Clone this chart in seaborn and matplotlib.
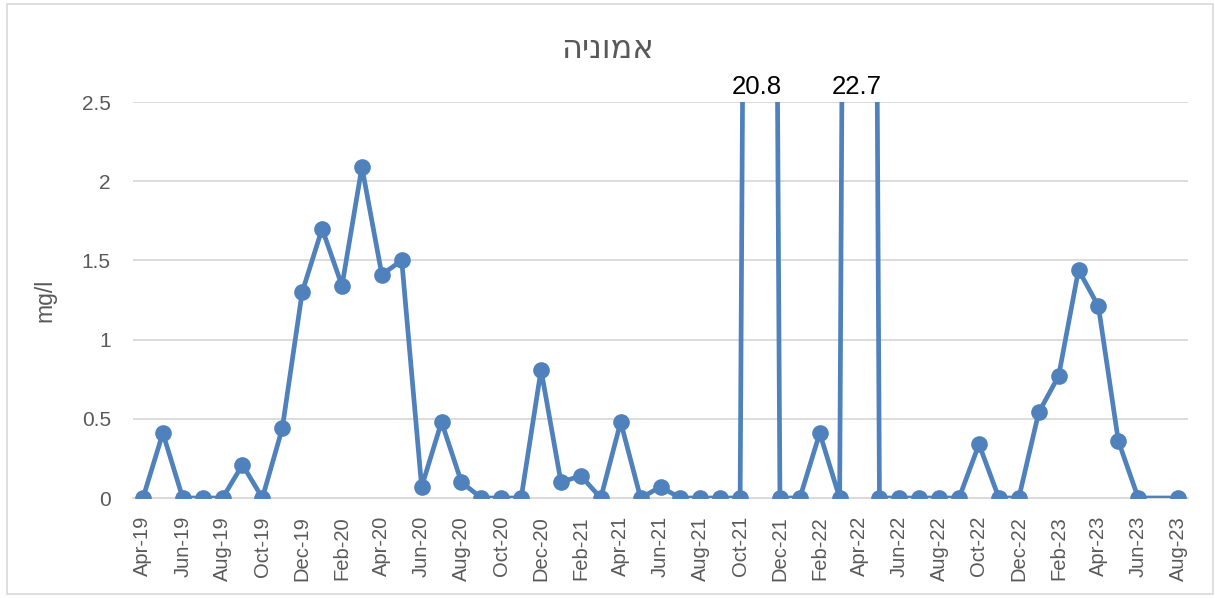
import numpy as np
import pandas as pd
import matplotlib
matplotlib.use('Agg')
import matplotlib.pyplot as plt
import seaborn as sns
from matplotlib.patches import Rectangle
from matplotlib.ticker import FixedLocator, FuncFormatter

# monthly ammonia readings, Apr-19 .. Aug-23 (Jul-23 missing)
months = pd.date_range('2019-04-01', periods=53, freq='MS')
values = [
    0, 0.41, 0, 0, 0, 0.21, 0, 0.44, 1.30,            # Apr-19 .. Dec-19
    1.70, 1.34, 2.09, 1.41, 1.50, 0.07, 0.48, 0.10,   # Jan-20 .. Aug-20
    0, 0, 0, 0.81,                                    # Sep-20 .. Dec-20
    0.10, 0.14, 0, 0.48, 0, 0.07, 0, 0, 0, 0, 20.8, 0, # 2021
    0, 0.41, 0, 22.7, 0, 0, 0, 0, 0, 0.34, 0, 0,      # 2022
    0.54, 0.77, 1.44, 1.21, 0.36, 0, np.nan, 0,       # Jan-23 .. Aug-23
]
peak_labels = ['20.8', '22.7']

title = 'אמוניה'
y_label = 'mg/l'

df = pd.DataFrame({'idx': np.arange(len(months)), 'month': months, 'value': values})
df_line = df.dropna()

sns.set_style('white')
plt.rcParams['font.family'] = ['Liberation Sans', 'DejaVu Sans']

blue = '#4F81BD'
grid_c = '#D9D9D9'
text_c = '#595959'

fig = plt.figure(figsize=(12.15, 5.98), dpi=100)
ax = fig.add_axes([133 / 1215, 1 - 498 / 598, (1188 - 133) / 1215, (498 - 102) / 598])

sns.lineplot(data=df_line, x='idx', y='value', color=blue, lw=3.4,
             marker='o', markersize=12, markeredgewidth=0, ax=ax, zorder=3)

ax.set_xlim(-0.5, len(months) - 0.5)
ax.set_ylim(0, 2.5)

# y axis
ax.set_yticks([0, 0.5, 1, 1.5, 2, 2.5])
ax.yaxis.set_major_formatter(FuncFormatter(lambda v, p: f'{v:g}'))
ax.grid(axis='y', color=grid_c, lw=1.3)
ax.tick_params(axis='y', length=0, labelsize=15, labelcolor=text_c, pad=16)

# x axis: labels every second month, tick marks on month boundaries
lab_idx = df['idx'][::2]
ax.set_xticks(lab_idx)
ax.set_xticklabels(df['month'][::2].dt.strftime('%b-%y'), rotation=90)
ax.tick_params(axis='x', which='major', length=0, labelsize=14.5, labelcolor=text_c, pad=13)
ax.xaxis.set_minor_locator(FixedLocator(np.arange(-0.5, len(months), 1)))
ax.tick_params(axis='x', which='minor', direction='inout', length=11, width=1.5, color=grid_c)

for s in ['top', 'right', 'left']:
    ax.spines[s].set_visible(False)
ax.spines['bottom'].set_color(grid_c)
ax.spines['bottom'].set_linewidth(1.3)
ax.spines['bottom'].set_zorder(1)

ax.set_xlabel('')
ax.set_ylabel(y_label, fontsize=16.5, color=text_c, labelpad=18)

# labels for the clipped peaks
big = df[df['value'] > 2.5]
for (_, row), lab in zip(big.iterrows(), peak_labels):
    ax.annotate(lab, xy=(row['idx'], 2.5), xytext=(-2, 2), textcoords='offset points',
                ha='center', va='bottom', fontsize=18.5, color='black', annotation_clip=False)

# title (reversed for right-to-left display)
fig.text(0.5, 1 - 50 / 598, title[::-1], ha='center', va='center',
         fontsize=23, color=text_c, family=['DejaVu Sans'])

# outer chart border
fig.patches.append(Rectangle((7 / 1215, 4 / 598), 1206 / 1215, 590 / 598,
                             transform=fig.transFigure, fill=False,
                             edgecolor=grid_c, lw=1.2))

fig.savefig('out.png', dpi=100)
